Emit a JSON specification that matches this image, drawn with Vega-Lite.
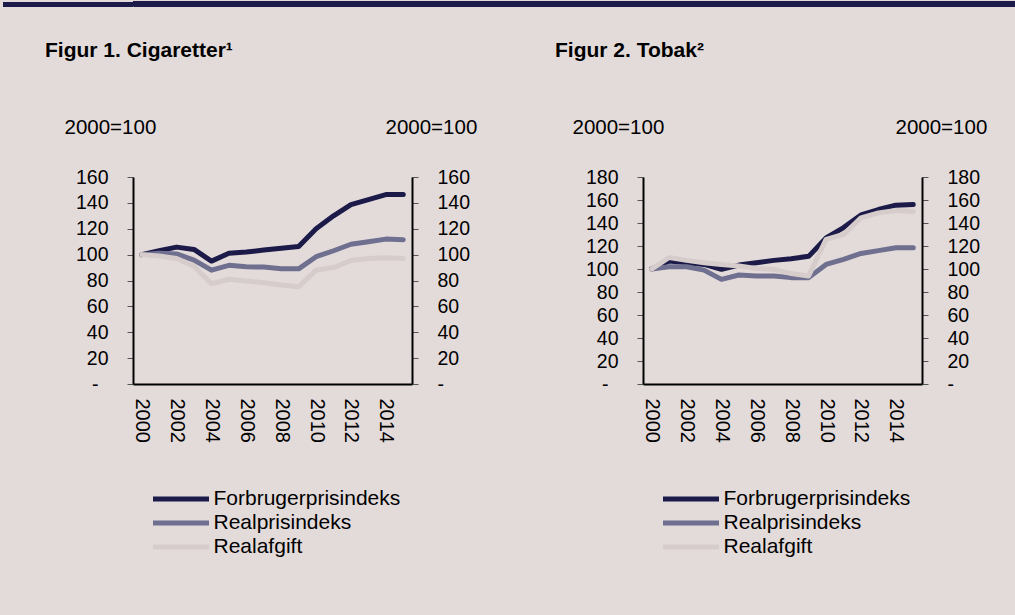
{
  "$schema": "https://vega.github.io/schema/vega-lite/v6.json",
  "background": "#e3dbda",
  "padding": {"left": 0, "top": 0, "right": 0, "bottom": 70},
  "config": {"font": "Liberation Sans", "view": {"stroke": null}},
  "datasets": {
    "cig": [
      {"year": 2000, "series": "Forbrugerprisindeks", "value": 100},
      {"year": 2001, "series": "Forbrugerprisindeks", "value": 103},
      {"year": 2002, "series": "Forbrugerprisindeks", "value": 105.8},
      {"year": 2003, "series": "Forbrugerprisindeks", "value": 104},
      {"year": 2004, "series": "Forbrugerprisindeks", "value": 95},
      {"year": 2005, "series": "Forbrugerprisindeks", "value": 101},
      {"year": 2006, "series": "Forbrugerprisindeks", "value": 102},
      {"year": 2007, "series": "Forbrugerprisindeks", "value": 103.5},
      {"year": 2008, "series": "Forbrugerprisindeks", "value": 105},
      {"year": 2009, "series": "Forbrugerprisindeks", "value": 106.3},
      {"year": 2010, "series": "Forbrugerprisindeks", "value": 120},
      {"year": 2011, "series": "Forbrugerprisindeks", "value": 130},
      {"year": 2012, "series": "Forbrugerprisindeks", "value": 138.7},
      {"year": 2013, "series": "Forbrugerprisindeks", "value": 142.5},
      {"year": 2014, "series": "Forbrugerprisindeks", "value": 146.4},
      {"year": 2015, "series": "Forbrugerprisindeks", "value": 146.4},
      {"year": 2000, "series": "Realprisindeks", "value": 100},
      {"year": 2001, "series": "Realprisindeks", "value": 101},
      {"year": 2002, "series": "Realprisindeks", "value": 100.5},
      {"year": 2003, "series": "Realprisindeks", "value": 95.8},
      {"year": 2004, "series": "Realprisindeks", "value": 88},
      {"year": 2005, "series": "Realprisindeks", "value": 91.7},
      {"year": 2006, "series": "Realprisindeks", "value": 90.6},
      {"year": 2007, "series": "Realprisindeks", "value": 90.4},
      {"year": 2008, "series": "Realprisindeks", "value": 89},
      {"year": 2009, "series": "Realprisindeks", "value": 89},
      {"year": 2010, "series": "Realprisindeks", "value": 98.4},
      {"year": 2011, "series": "Realprisindeks", "value": 103},
      {"year": 2012, "series": "Realprisindeks", "value": 108},
      {"year": 2013, "series": "Realprisindeks", "value": 110},
      {"year": 2014, "series": "Realprisindeks", "value": 112},
      {"year": 2015, "series": "Realprisindeks", "value": 111.5},
      {"year": 2000, "series": "Realafgift", "value": 100},
      {"year": 2001, "series": "Realafgift", "value": 99},
      {"year": 2002, "series": "Realafgift", "value": 97},
      {"year": 2003, "series": "Realafgift", "value": 91},
      {"year": 2004, "series": "Realafgift", "value": 77.5},
      {"year": 2005, "series": "Realafgift", "value": 81},
      {"year": 2006, "series": "Realafgift", "value": 79.6},
      {"year": 2007, "series": "Realafgift", "value": 78.3},
      {"year": 2008, "series": "Realafgift", "value": 76.5},
      {"year": 2009, "series": "Realafgift", "value": 75.2},
      {"year": 2010, "series": "Realafgift", "value": 88},
      {"year": 2011, "series": "Realafgift", "value": 90},
      {"year": 2012, "series": "Realafgift", "value": 95.5},
      {"year": 2013, "series": "Realafgift", "value": 97},
      {"year": 2014, "series": "Realafgift", "value": 97.6},
      {"year": 2015, "series": "Realafgift", "value": 97}
    ],
    "tob": [
      {"year": 2000, "series": "Forbrugerprisindeks", "value": 100},
      {"year": 2001, "series": "Forbrugerprisindeks", "value": 107},
      {"year": 2002, "series": "Forbrugerprisindeks", "value": 105.5},
      {"year": 2003, "series": "Forbrugerprisindeks", "value": 104},
      {"year": 2004, "series": "Forbrugerprisindeks", "value": 99.7},
      {"year": 2005, "series": "Forbrugerprisindeks", "value": 103.4},
      {"year": 2006, "series": "Forbrugerprisindeks", "value": 105.5},
      {"year": 2007, "series": "Forbrugerprisindeks", "value": 107.5},
      {"year": 2008, "series": "Forbrugerprisindeks", "value": 109},
      {"year": 2009, "series": "Forbrugerprisindeks", "value": 111},
      {"year": 2010, "series": "Forbrugerprisindeks", "value": 127},
      {"year": 2011, "series": "Forbrugerprisindeks", "value": 136},
      {"year": 2012, "series": "Forbrugerprisindeks", "value": 147},
      {"year": 2013, "series": "Forbrugerprisindeks", "value": 151.7},
      {"year": 2014, "series": "Forbrugerprisindeks", "value": 155.5},
      {"year": 2015, "series": "Forbrugerprisindeks", "value": 156},
      {"year": 2000, "series": "Realprisindeks", "value": 100},
      {"year": 2001, "series": "Realprisindeks", "value": 102},
      {"year": 2002, "series": "Realprisindeks", "value": 102},
      {"year": 2003, "series": "Realprisindeks", "value": 99},
      {"year": 2004, "series": "Realprisindeks", "value": 91},
      {"year": 2005, "series": "Realprisindeks", "value": 94.8},
      {"year": 2006, "series": "Realprisindeks", "value": 94},
      {"year": 2007, "series": "Realprisindeks", "value": 94},
      {"year": 2008, "series": "Realprisindeks", "value": 92.5},
      {"year": 2009, "series": "Realprisindeks", "value": 92.5},
      {"year": 2010, "series": "Realprisindeks", "value": 104},
      {"year": 2011, "series": "Realprisindeks", "value": 108.4},
      {"year": 2012, "series": "Realprisindeks", "value": 113.5},
      {"year": 2013, "series": "Realprisindeks", "value": 116},
      {"year": 2014, "series": "Realprisindeks", "value": 118.5},
      {"year": 2015, "series": "Realprisindeks", "value": 118.5},
      {"year": 2000, "series": "Realafgift", "value": 100},
      {"year": 2001, "series": "Realafgift", "value": 110},
      {"year": 2002, "series": "Realafgift", "value": 107.5},
      {"year": 2003, "series": "Realafgift", "value": 105.5},
      {"year": 2004, "series": "Realafgift", "value": 104},
      {"year": 2005, "series": "Realafgift", "value": 102.6},
      {"year": 2006, "series": "Realafgift", "value": 100.5},
      {"year": 2007, "series": "Realafgift", "value": 99.7},
      {"year": 2008, "series": "Realafgift", "value": 96},
      {"year": 2009, "series": "Realafgift", "value": 94},
      {"year": 2010, "series": "Realafgift", "value": 125.7},
      {"year": 2011, "series": "Realafgift", "value": 130},
      {"year": 2012, "series": "Realafgift", "value": 144.5},
      {"year": 2013, "series": "Realafgift", "value": 148.8},
      {"year": 2014, "series": "Realafgift", "value": 150.8},
      {"year": 2015, "series": "Realafgift", "value": 150}
    ]
  },
  "spacing": 33,
  "vconcat": [
    {
      "width": 882,
      "height": 5,
      "view": {"fill": "#1b1a48", "stroke": null},
      "data": {"values": [{}]},
      "mark": {"type": "point", "opacity": 0},
      "encoding": {
        "y": {"datum": 0, "type": "quantitative", "scale": {"domain": [-1, 1]},
          "axis": {"values": [0], "tickSize": 130.5, "tickWidth": 5, "tickColor": "#1b1a48", "tickCap": "butt", "grid": true, "gridWidth": 5, "gridColor": "#1b1a48", "gridOpacity": 1, "labels": false, "domain": false, "title": null}}
      }
    },
    {
      "spacing": 33,
      "resolve": {"scale": {"color": "independent"}, "legend": {"color": "independent"}},
      "hconcat": [
        {
          "width": 279,
          "height": 207,
          "data": {"name": "cig"},
          "title": {"text": "Figur 1. Cigaretter¹", "anchor": "start", "frame": "group", "dx": -88, "offset": 56, "fontSize": 21, "fontWeight": "bold", "color": "black"},
          "encoding": {
            "x": {"field": "year", "type": "ordinal", "scale": {"type": "point", "padding": 0.5},
              "axis": {"values": [2000, 2002, 2004, 2006, 2008, 2010, 2012, 2014], "labelAngle": 90, "ticks": false, "labelPadding": 14, "domainColor": "black", "domainWidth": 2, "labelFontSize": 20, "labelColor": "black", "grid": false, "title": null}}
          },
          "layer": [
            {
              "mark": {"type": "line", "strokeWidth": 5, "strokeCap": "round", "strokeJoin": "round"},
              "encoding": {
                "y": {"field": "value", "type": "quantitative", "scale": {"domain": [0, 160], "nice": false},
                  "axis": {"orient": "left", "values": [0, 20, 40, 60, 80, 100, 120, 140, 160], "labelExpr": "datum.value == 0 ? '-' : datum.label", "grid": false, "domainColor": "black", "domainWidth": 2, "tickColor": "#555", "tickSize": 6, "tickWidth": 1, "labelPadding": {"condition": {"test": "datum.value == 0", "value": 29}, "value": 19}, "labelFontSize": 19.5, "labelColor": "black", "title": "2000=100", "titleAngle": 0, "titleX": -69, "titleY": -44, "titleAlign": "left", "titleBaseline": "alphabetic", "titleFontSize": 20.5, "titleFontWeight": "normal", "titleColor": "black"}},
                "color": {"field": "series", "type": "nominal", "sort": ["Forbrugerprisindeks", "Realprisindeks", "Realafgift"],
                  "scale": {"domain": ["Forbrugerprisindeks", "Realprisindeks", "Realafgift"], "range": ["#1b1a48", "#6f6f8f", "#d6cccb"]},
                  "legend": {"orient": "none", "legendX": 17.5, "legendY": 310, "title": null, "direction": "vertical", "symbolType": "stroke", "symbolSize": 3136, "symbolStrokeWidth": 5, "clipHeight": 24, "rowPadding": 0, "labelOffset": 2, "padding": 0, "labelFontSize": 21, "labelLimit": 400, "labelColor": "black"}}
              }
            },
            {
              "mark": {"type": "line", "opacity": 0},
              "encoding": {
                "detail": {"field": "series"},
                "y": {"field": "value", "type": "quantitative", "scale": {"domain": [0, 160], "nice": false},
                  "axis": {"orient": "right", "values": [0, 20, 40, 60, 80, 100, 120, 140, 160], "labelExpr": "datum.value == 0 ? '-' : datum.label", "grid": false, "domainColor": "black", "domainWidth": 2, "tickColor": "#555", "tickSize": 6, "tickWidth": 1, "labelPadding": 19, "labelFontSize": 19.5, "labelColor": "black", "title": "2000=100", "titleAngle": 0, "titleX": -27, "titleY": -44, "titleAlign": "left", "titleBaseline": "alphabetic", "titleFontSize": 20.5, "titleFontWeight": "normal", "titleColor": "black"}}
              }
            }
          ],
          "resolve": {"axis": {"y": "independent"}}
        },
        {
          "width": 279,
          "height": 207,
          "data": {"name": "tob"},
          "title": {"text": "Figur 2. Tobak²", "anchor": "start", "frame": "group", "dx": -88, "offset": 56, "fontSize": 21, "fontWeight": "bold", "color": "black"},
          "encoding": {
            "x": {"field": "year", "type": "ordinal", "scale": {"type": "point", "padding": 0.5},
              "axis": {"values": [2000, 2002, 2004, 2006, 2008, 2010, 2012, 2014], "labelAngle": 90, "ticks": false, "labelPadding": 14, "domainColor": "black", "domainWidth": 2, "labelFontSize": 20, "labelColor": "black", "grid": false,
                "title": "x", "titleOpacity": 0, "titleX": -133, "titleY": 10, "titleAlign": "left", "titleAngle": 0, "titleFontSize": 10}}
          },
          "layer": [
            {
              "mark": {"type": "line", "strokeWidth": 5, "strokeCap": "round", "strokeJoin": "round"},
              "encoding": {
                "y": {"field": "value", "type": "quantitative", "scale": {"domain": [0, 180], "nice": false},
                  "axis": {"orient": "left", "values": [0, 20, 40, 60, 80, 100, 120, 140, 160, 180], "labelExpr": "datum.value == 0 ? '-' : datum.label", "grid": false, "domainColor": "black", "domainWidth": 2, "tickColor": "#555", "tickSize": 6, "tickWidth": 1, "labelPadding": {"condition": {"test": "datum.value == 0", "value": 29}, "value": 19}, "labelFontSize": 19.5, "labelColor": "black", "title": "2000=100", "titleAngle": 0, "titleX": -71, "titleY": -44, "titleAlign": "left", "titleBaseline": "alphabetic", "titleFontSize": 20.5, "titleFontWeight": "normal", "titleColor": "black"}},
                "color": {"field": "series", "type": "nominal", "sort": ["Forbrugerprisindeks", "Realprisindeks", "Realafgift"],
                  "scale": {"domain": ["Forbrugerprisindeks", "Realprisindeks", "Realafgift"], "range": ["#1b1a48", "#6f6f8f", "#d6cccb"]},
                  "legend": {"orient": "none", "legendX": 17.5, "legendY": 310, "title": null, "direction": "vertical", "symbolType": "stroke", "symbolSize": 3136, "symbolStrokeWidth": 5, "clipHeight": 24, "rowPadding": 0, "labelOffset": 2, "padding": 0, "labelFontSize": 21, "labelLimit": 400, "labelColor": "black"}}
              }
            },
            {
              "mark": {"type": "line", "opacity": 0},
              "encoding": {
                "detail": {"field": "series"},
                "y": {"field": "value", "type": "quantitative", "scale": {"domain": [0, 180], "nice": false},
                  "axis": {"orient": "right", "values": [0, 20, 40, 60, 80, 100, 120, 140, 160, 180], "labelExpr": "datum.value == 0 ? '-' : datum.label", "grid": false, "domainColor": "black", "domainWidth": 2, "tickColor": "#555", "tickSize": 6, "tickWidth": 1, "labelPadding": 19, "labelFontSize": 19.5, "labelColor": "black", "title": "2000=100", "titleAngle": 0, "titleX": -27, "titleY": -44, "titleAlign": "left", "titleBaseline": "alphabetic", "titleFontSize": 20.5, "titleFontWeight": "normal", "titleColor": "black"}}
              }
            }
          ],
          "resolve": {"axis": {"y": "independent"}}
        }
      ]
    }
  ]
}
